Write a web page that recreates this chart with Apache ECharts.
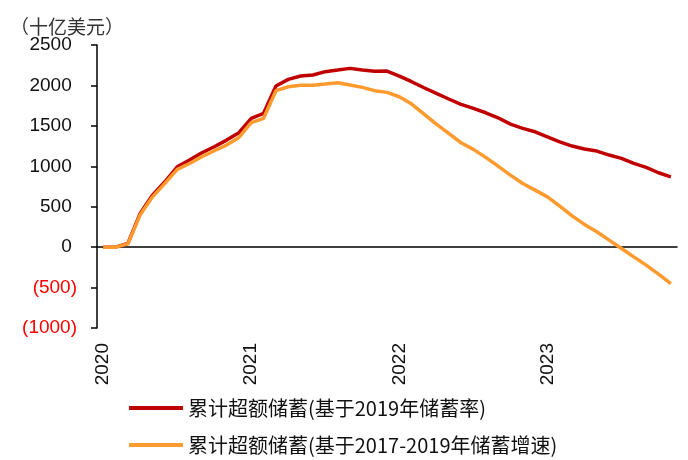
<!DOCTYPE html>
<html>
<head>
	<meta charset="utf-8">
	<title>累计超额储蓄</title>
	<style type="text/css">
		html, body { margin: 0; padding: 0; background: #fff; }
		#chart { width: 688px; height: 460px; }
	</style>
</head>
<body>
	<div id="chart"></div>
	<script src="https://cdn.jsdelivr.net/npm/echarts@6.0.0/dist/echarts.min.js"></script>
	<script type="text/javascript">
	// months Jan 2020 .. Nov 2023
	const MONTHS = [];
	for (let y = 2020; y <= 2023; y++) {
		for (let m = 1; m <= 12; m++) {
			if (y === 2023 && m > 11) break;
			MONTHS.push(y + '-' + (m < 10 ? '0' + m : m));
		}
	}

	const RATE_2019 = [
		0, 0, 45, 417, 644, 808, 994, 1077, 1167, 1241, 1324, 1415,
		1593, 1655, 1993, 2075, 2116, 2129, 2170, 2190, 2211, 2190, 2174, 2178,
		2116, 2046, 1971, 1902, 1832, 1766, 1716, 1662, 1600, 1522, 1469, 1427,
		1365, 1303, 1250, 1213, 1188, 1139, 1098, 1036, 986, 920, 870
	];
	const GROWTH_2017_2019 = [
		0, 0, 40, 400, 622, 788, 961, 1035, 1118, 1192, 1262, 1357,
		1539, 1593, 1935, 1984, 2001, 2001, 2017, 2034, 2005, 1976, 1935, 1914,
		1860, 1770, 1646, 1522, 1407, 1291, 1209, 1110, 1002, 891, 788, 705,
		622, 507, 387, 281, 190, 87, -16, -120, -223, -334, -450
	];

	const TXT = {
		UNIT: '（十亿美元）',
		S1: '累计超额储蓄(基于2019年储蓄率)',
		S2: '累计超额储蓄(基于2017-2019年储蓄增速)'
	};

	const LATIN = '"Liberation Sans", Arial, sans-serif';
	const CJK = '"Noto Sans CJK SC", "Noto Sans", sans-serif';

	var myChart = echarts.init(document.getElementById('chart'));

	var option = {
		animation: false,
		title: {
			text: TXT.UNIT,
			left: 5,
			top: 12,
			textStyle: { fontFamily: CJK, fontSize: 19, fontWeight: 'normal', color: '#333' }
		},
		grid: { left: 97, right: 11, top: 45, bottom: 132, containLabel: false },
		legend: {
			orient: 'vertical',
			left: 124,
			top: 393,
			itemWidth: 54,
			itemHeight: 4,
			itemGap: 17,
			icon: 'rect',
			textStyle: { fontFamily: CJK, fontSize: 20, color: '#111' },
			data: [TXT.S1, TXT.S2]
		},
		xAxis: [
			{
				// line + ticks on the zero line
				type: 'category',
				data: MONTHS,
				position: 'top',
				boundaryGap: true,
				axisLine: { onZero: true, lineStyle: { color: '#000', width: 1.5 } },
				axisTick: {
					inside: true,
					length: 6,
					lineStyle: { color: '#000', width: 1.5 },
					interval: function (i) { return i % 12 === 0; }
				},
				axisLabel: { show: false },
				splitLine: { show: false }
			},
			{
				// year labels at the bottom
				type: 'category',
				data: MONTHS,
				position: 'bottom',
				boundaryGap: true,
				axisLine: { show: false, onZero: false },
				axisTick: { show: false },
				axisLabel: {
					rotate: 90,
					margin: 15,
					fontFamily: LATIN,
					fontSize: 19,
					color: '#111',
					interval: function (i) { return i % 12 === 0; },
					formatter: function (v) { return v.slice(0, 4); }
				},
				splitLine: { show: false }
			}
		],
		yAxis: {
			type: 'value',
			min: -1000,
			max: 2500,
			interval: 500,
			axisLine: { show: true, lineStyle: { color: '#000', width: 1.5 } },
			axisTick: { show: true, length: 6, lineStyle: { color: '#000', width: 1.5 } },
			splitLine: { show: false },
			axisLabel: {
				margin: 20,
				fontFamily: LATIN,
				fontSize: 19,
				color: function (v) { return Number(v) < 0 ? '#FF0000' : '#111'; },
				formatter: function (v) { return v < 0 ? '(' + (-v) + ')' : v + ' '; }
			}
		},
		series: [
			{
				name: TXT.S1,
				type: 'line',
				xAxisIndex: 1,
				data: RATE_2019,
				showSymbol: false,
				itemStyle: { color: '#C00000' },
				lineStyle: { color: '#C00000', width: 3.5 },
				z: 3
			},
			{
				name: TXT.S2,
				type: 'line',
				xAxisIndex: 1,
				data: GROWTH_2017_2019,
				showSymbol: false,
				itemStyle: { color: '#FF9A2E' },
				lineStyle: { color: '#FF9A2E', width: 3.5 },
				z: 4
			}
		]
	};

	myChart.setOption(option);
	</script>
</body>
</html>
